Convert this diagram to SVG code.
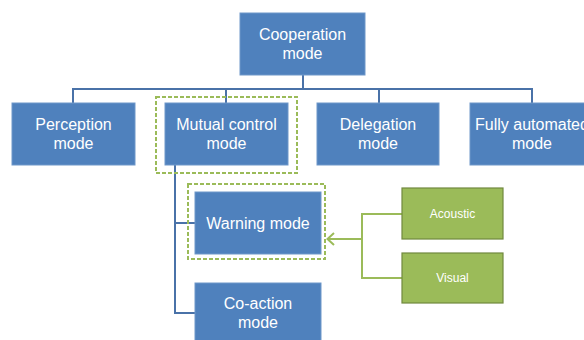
<svg xmlns="http://www.w3.org/2000/svg" width="584" height="340" viewBox="0 0 584 340">
<defs>
<style>
.box{fill:#4F81BD;stroke:#6E97C9;stroke-width:1}
.gbox{fill:#9BBB59;stroke:#71893F;stroke-width:1.2}
.t{font-family:"Liberation Sans",Arial,sans-serif;font-size:16px;fill:#FFFFFF;text-anchor:middle}
.ts{font-family:"Liberation Sans",Arial,sans-serif;font-size:12px;fill:#FFFFFF;text-anchor:middle}
.bl{fill:none;stroke:#4A72A8;stroke-width:2}
.gl{fill:none;stroke:#9BBB59;stroke-width:2}
.dash{fill:none;stroke:#9BBB59;stroke-width:2;stroke-dasharray:4 2}
</style>
</defs>
<rect width="584" height="340" fill="#FFFFFF"/>
<g id="connectors">
<path class="bl" d="M303,75 V89 M73,103 V89 H532 V103 M226,89 V103 M379,89 V103"/>
<path class="bl" d="M175,165 V313 H195 M175,223 H195"/>
<path class="gl" d="M402,214 H362 V278 H402"/>
<path class="gl" d="M362,239 H328"/>
<path class="gl" d="M334,233 L327.5,239 L334,245" stroke-width="2.5"/>
</g>
<g id="cooperation"><rect class="box" x="240" y="13" width="125" height="62"/><text class="t" x="302.5" y="40">Cooperation</text><text class="t" x="302.5" y="59">mode</text></g>
<g id="perception"><rect class="box" x="12" y="103" width="123" height="62"/><text class="t" x="73.5" y="130">Perception</text><text class="t" x="73.5" y="149">mode</text></g>
<g id="mutual"><rect class="dash" x="156" y="97" width="141" height="76"/><rect class="box" x="165" y="103" width="123" height="62"/><text class="t" x="226.5" y="130">Mutual control</text><text class="t" x="226.5" y="149">mode</text></g>
<g id="delegation"><rect class="box" x="317" y="103" width="122" height="62"/><text class="t" x="378" y="130">Delegation</text><text class="t" x="378" y="149">mode</text></g>
<g id="fully"><rect class="box" x="470" y="103" width="124" height="62"/><text class="t" x="532" y="130">Fully automated</text><text class="t" x="532" y="149">mode</text></g>
<g id="warning"><rect class="dash" x="188" y="184" width="137" height="75"/><rect class="box" x="195" y="192" width="126" height="62"/><text class="t" x="258" y="229">Warning mode</text></g>
<g id="coaction"><rect class="box" x="195" y="283" width="126" height="62"/><text class="t" x="258" y="309">Co-action</text><text class="t" x="258" y="328">mode</text></g>
<g id="acoustic"><rect class="gbox" x="402" y="188" width="101" height="51"/><text class="ts" x="452.5" y="218">Acoustic</text></g>
<g id="visual"><rect class="gbox" x="402" y="253" width="101" height="50"/><text class="ts" x="452.5" y="282">Visual</text></g>
</svg>
